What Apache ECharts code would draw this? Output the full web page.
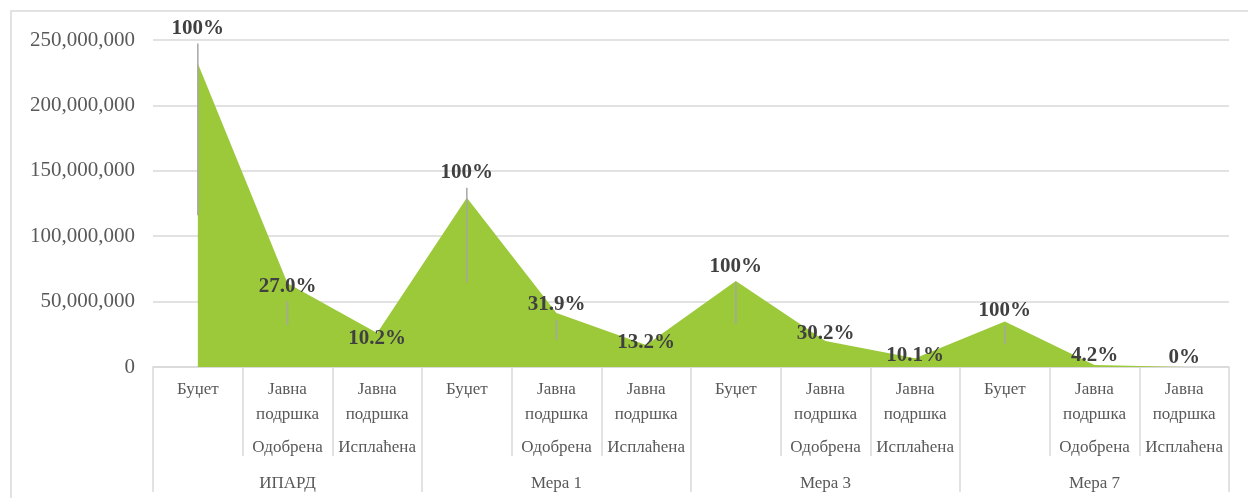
<!DOCTYPE html>
<html>
<head>
<meta charset="utf-8">
<script src="https://cdn.jsdelivr.net/npm/echarts@6/dist/echarts.min.js"></script>
<style>
  html, body { margin: 0; padding: 0; background: #fff; }
  #chart { width: 1248px; height: 498px; }
</style>
</head>
<body>
<div id="chart"></div>
<script>
// sub categories (3 per group) and groups
const subCategories = [
  'Буџет', 'Јавна подршка Одобрена', 'Јавна подршка Исплаћена',
  'Буџет', 'Јавна подршка Одобрена', 'Јавна подршка Исплаћена',
  'Буџет', 'Јавна подршка Одобрена', 'Јавна подршка Исплаћена',
  'Буџет', 'Јавна подршка Одобрена', 'Јавна подршка Исплаћена'
]
const groups = ['ИПАРД', 'Мера 1', 'Мера 3', 'Мера 7']

const amounts = [
  232000000, 64000000, 26000000,
  129400000, 41300000, 16900000,
  65800000, 19900000, 6600000,
  34700000, 1460000, 0
]
const pctLabels = [
  '100%', '27.0%', '10.2%',
  '100%', '31.9%', '13.2%',
  '100%', '30.2%', '10.1%',
  '100%', '4.2%', '0%'
]
const yTicks = { min: 0, max: 250000000, interval: 50000000 }

// label placement (pixel offset of label centre from the point)
const labelDy = [-35, 3, 6, -25, -8, -2, -14, -7, -3, -11, -10, -9]

const GREEN = '#9BC93A'
const GRID_COLOR = '#d9d9d9'
const SERIF = '"Liberation Serif", "Times New Roman", serif'

const chart = echarts.init(document.getElementById('chart'))

const subLabel = (name) => {
  if (name === 'Буџет') return '{a|Буџет}'
  const parts = name.split(' ')
  return '{a|' + parts[0] + '}\n{a|' + parts[1] + '}\n{b|' + parts[2] + '}'
}

const fmtNum = (v) => String(v).replace(/\B(?=(\d{3})+(?!\d))/g, ',')

const option = {
  animation: false,
  backgroundColor: '#fff',
  graphic: [
    {
      type: 'rect',
      shape: { x: 11, y: 11, width: 1400, height: 700 },
      style: { fill: 'none', stroke: GRID_COLOR, lineWidth: 1.5 },
      silent: true
    }
  ],
  grid: {
    left: 153,
    right: 19,
    top: 40,
    bottom: 131,
    containLabel: false
  },
  xAxis: [
    {
      type: 'category',
      data: subCategories,
      position: 'bottom',
      boundaryGap: true,
      axisLine: { show: true, lineStyle: { color: GRID_COLOR, width: 1.5 } },
      axisTick: {
        show: true,
        interval: 0,
        length: 89,
        lineStyle: { color: GRID_COLOR, width: 1.5 }
      },
      axisLabel: {
        interval: 0,
        margin: 10,
        verticalAlign: 'top',
        formatter: subLabel,
        rich: {
          a: { fontFamily: SERIF, fontSize: 17, color: '#595959', lineHeight: 25 },
          b: { fontFamily: SERIF, fontSize: 17, color: '#595959', lineHeight: 41 }
        }
      }
    },
    {
      type: 'category',
      data: groups,
      position: 'bottom',
      boundaryGap: true,
      axisLine: { show: false },
      axisTick: {
        show: true,
        interval: 0,
        length: 125,
        lineStyle: { color: GRID_COLOR, width: 1.5 }
      },
      axisLabel: {
        interval: 0,
        margin: 107,
        verticalAlign: 'top',
        fontFamily: SERIF,
        fontSize: 17,
        lineHeight: 20,
        color: '#595959'
      }
    }
  ],
  yAxis: {
    type: 'value',
    min: yTicks.min,
    max: yTicks.max,
    interval: yTicks.interval,
    axisLine: { show: false },
    axisTick: { show: false },
    splitLine: { show: true, lineStyle: { color: GRID_COLOR, width: 1.5 } },
    axisLabel: {
      margin: 18,
      fontFamily: SERIF,
      fontSize: 21,
      color: '#595959',
      formatter: fmtNum
    }
  },
  series: [
    {
      name: 'area',
      type: 'line',
      xAxisIndex: 0,
      data: amounts,
      showSymbol: false,
      symbol: 'none',
      lineStyle: { width: 0 },
      areaStyle: { color: GREEN, opacity: 1 },
      z: 2
    },
    {
      name: 'labels',
      type: 'custom',
      xAxisIndex: 0,
      data: amounts.map((v, i) => [i, v]),
      clip: false,
      z: 5,
      renderItem: (params, api) => {
        const i = params.dataIndex
        const pt = api.coord([i, api.value(1)])
        const mid = api.coord([i, api.value(1) / 2])
        const cy = pt[1] + labelDy[i]
        const children = []
        const lineTop = cy + 15
        if (mid[1] - lineTop > 10) {
          children.push({
            type: 'line',
            shape: { x1: pt[0], y1: lineTop, x2: pt[0], y2: mid[1] },
            style: { stroke: '#a6a6a6', lineWidth: 1.5 }
          })
        }
        children.push({
          type: 'text',
          x: pt[0],
          y: cy,
          style: {
            text: pctLabels[i],
            fontFamily: SERIF,
            fontSize: 21,
            fontWeight: 'bold',
            fill: '#404040',
            align: 'center',
            verticalAlign: 'middle'
          }
        })
        return { type: 'group', children }
      }
    }
  ]
}

chart.setOption(option, true)
</script>
</body>
</html>
